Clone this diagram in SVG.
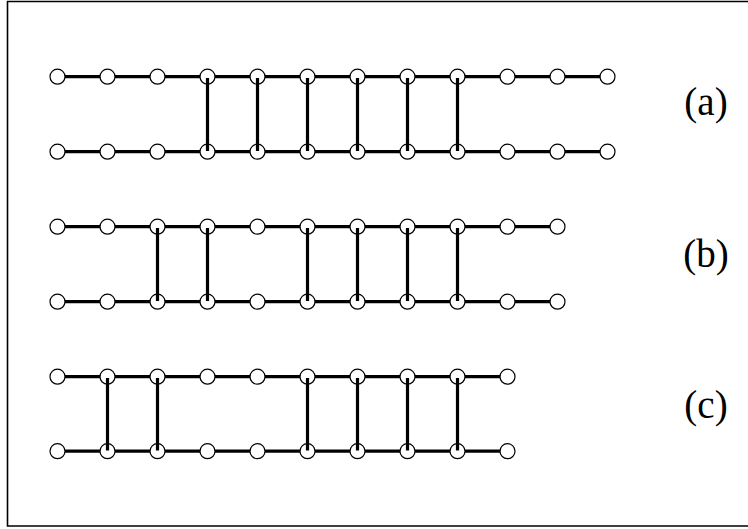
<svg xmlns="http://www.w3.org/2000/svg" width="748" height="529" viewBox="0 0 748 529">
<style>
.e{stroke:#000;stroke-width:3.2;fill:none}
.n{fill:#fff;stroke:#000;stroke-width:1.2}
.lbl{font-size:39px;fill:#000;text-anchor:middle}
.frame{stroke:#000;stroke-width:1.6;fill:none}
</style>
<rect width="748" height="529" fill="#fff"/>
<path class="frame" d="M748,1.5 H7.5 V526 H748"/>
<g id="connectors">
<g id="rails">
<line class="e" x1="57.5" y1="76.7" x2="607.5" y2="76.7"/>
<line class="e" x1="57.5" y1="151.7" x2="607.5" y2="151.7"/>
<line class="e" x1="57.5" y1="226.7" x2="557.5" y2="226.7"/>
<line class="e" x1="57.5" y1="301.7" x2="557.5" y2="301.7"/>
<line class="e" x1="57.5" y1="376.7" x2="507.5" y2="376.7"/>
<line class="e" x1="57.5" y1="451.2" x2="507.5" y2="451.2"/>
</g>
</g>
<g id="nodes-a">
<g id="a-t0"><circle class="n" cx="57.5" cy="76.7" r="7.5"/></g>
<g id="a-t1"><circle class="n" cx="107.5" cy="76.7" r="7.5"/></g>
<g id="a-t2"><circle class="n" cx="157.5" cy="76.7" r="7.5"/></g>
<g id="a-t3"><circle class="n" cx="207.5" cy="76.7" r="7.5"/></g>
<g id="a-t4"><circle class="n" cx="257.5" cy="76.7" r="7.5"/></g>
<g id="a-t5"><circle class="n" cx="307.5" cy="76.7" r="7.5"/></g>
<g id="a-t6"><circle class="n" cx="357.5" cy="76.7" r="7.5"/></g>
<g id="a-t7"><circle class="n" cx="407.5" cy="76.7" r="7.5"/></g>
<g id="a-t8"><circle class="n" cx="457.5" cy="76.7" r="7.5"/></g>
<g id="a-t9"><circle class="n" cx="507.5" cy="76.7" r="7.5"/></g>
<g id="a-t10"><circle class="n" cx="557.5" cy="76.7" r="7.5"/></g>
<g id="a-t11"><circle class="n" cx="607.5" cy="76.7" r="7.5"/></g>
<g id="a-b0"><circle class="n" cx="57.5" cy="151.7" r="7.5"/></g>
<g id="a-b1"><circle class="n" cx="107.5" cy="151.7" r="7.5"/></g>
<g id="a-b2"><circle class="n" cx="157.5" cy="151.7" r="7.5"/></g>
<g id="a-b3"><circle class="n" cx="207.5" cy="151.7" r="7.5"/></g>
<g id="a-b4"><circle class="n" cx="257.5" cy="151.7" r="7.5"/></g>
<g id="a-b5"><circle class="n" cx="307.5" cy="151.7" r="7.5"/></g>
<g id="a-b6"><circle class="n" cx="357.5" cy="151.7" r="7.5"/></g>
<g id="a-b7"><circle class="n" cx="407.5" cy="151.7" r="7.5"/></g>
<g id="a-b8"><circle class="n" cx="457.5" cy="151.7" r="7.5"/></g>
<g id="a-b9"><circle class="n" cx="507.5" cy="151.7" r="7.5"/></g>
<g id="a-b10"><circle class="n" cx="557.5" cy="151.7" r="7.5"/></g>
<g id="a-b11"><circle class="n" cx="607.5" cy="151.7" r="7.5"/></g>
</g>
<g id="nodes-b">
<g id="b-t0"><circle class="n" cx="57.5" cy="226.7" r="7.5"/></g>
<g id="b-t1"><circle class="n" cx="107.5" cy="226.7" r="7.5"/></g>
<g id="b-t2"><circle class="n" cx="157.5" cy="226.7" r="7.5"/></g>
<g id="b-t3"><circle class="n" cx="207.5" cy="226.7" r="7.5"/></g>
<g id="b-t4"><circle class="n" cx="257.5" cy="226.7" r="7.5"/></g>
<g id="b-t5"><circle class="n" cx="307.5" cy="226.7" r="7.5"/></g>
<g id="b-t6"><circle class="n" cx="357.5" cy="226.7" r="7.5"/></g>
<g id="b-t7"><circle class="n" cx="407.5" cy="226.7" r="7.5"/></g>
<g id="b-t8"><circle class="n" cx="457.5" cy="226.7" r="7.5"/></g>
<g id="b-t9"><circle class="n" cx="507.5" cy="226.7" r="7.5"/></g>
<g id="b-t10"><circle class="n" cx="557.5" cy="226.7" r="7.5"/></g>
<g id="b-b0"><circle class="n" cx="57.5" cy="301.7" r="7.5"/></g>
<g id="b-b1"><circle class="n" cx="107.5" cy="301.7" r="7.5"/></g>
<g id="b-b2"><circle class="n" cx="157.5" cy="301.7" r="7.5"/></g>
<g id="b-b3"><circle class="n" cx="207.5" cy="301.7" r="7.5"/></g>
<g id="b-b4"><circle class="n" cx="257.5" cy="301.7" r="7.5"/></g>
<g id="b-b5"><circle class="n" cx="307.5" cy="301.7" r="7.5"/></g>
<g id="b-b6"><circle class="n" cx="357.5" cy="301.7" r="7.5"/></g>
<g id="b-b7"><circle class="n" cx="407.5" cy="301.7" r="7.5"/></g>
<g id="b-b8"><circle class="n" cx="457.5" cy="301.7" r="7.5"/></g>
<g id="b-b9"><circle class="n" cx="507.5" cy="301.7" r="7.5"/></g>
<g id="b-b10"><circle class="n" cx="557.5" cy="301.7" r="7.5"/></g>
</g>
<g id="nodes-c">
<g id="c-t0"><circle class="n" cx="57.5" cy="376.7" r="7.5"/></g>
<g id="c-t1"><circle class="n" cx="107.5" cy="376.7" r="7.5"/></g>
<g id="c-t2"><circle class="n" cx="157.5" cy="376.7" r="7.5"/></g>
<g id="c-t3"><circle class="n" cx="207.5" cy="376.7" r="7.5"/></g>
<g id="c-t4"><circle class="n" cx="257.5" cy="376.7" r="7.5"/></g>
<g id="c-t5"><circle class="n" cx="307.5" cy="376.7" r="7.5"/></g>
<g id="c-t6"><circle class="n" cx="357.5" cy="376.7" r="7.5"/></g>
<g id="c-t7"><circle class="n" cx="407.5" cy="376.7" r="7.5"/></g>
<g id="c-t8"><circle class="n" cx="457.5" cy="376.7" r="7.5"/></g>
<g id="c-t9"><circle class="n" cx="507.5" cy="376.7" r="7.5"/></g>
<g id="c-b0"><circle class="n" cx="57.5" cy="451.2" r="7.5"/></g>
<g id="c-b1"><circle class="n" cx="107.5" cy="451.2" r="7.5"/></g>
<g id="c-b2"><circle class="n" cx="157.5" cy="451.2" r="7.5"/></g>
<g id="c-b3"><circle class="n" cx="207.5" cy="451.2" r="7.5"/></g>
<g id="c-b4"><circle class="n" cx="257.5" cy="451.2" r="7.5"/></g>
<g id="c-b5"><circle class="n" cx="307.5" cy="451.2" r="7.5"/></g>
<g id="c-b6"><circle class="n" cx="357.5" cy="451.2" r="7.5"/></g>
<g id="c-b7"><circle class="n" cx="407.5" cy="451.2" r="7.5"/></g>
<g id="c-b8"><circle class="n" cx="457.5" cy="451.2" r="7.5"/></g>
<g id="c-b9"><circle class="n" cx="507.5" cy="451.2" r="7.5"/></g>
</g>
<g id="rungs">
<line class="e" x1="207.5" y1="78" x2="207.5" y2="151"/>
<line class="e" x1="257.5" y1="78" x2="257.5" y2="151"/>
<line class="e" x1="307.5" y1="78" x2="307.5" y2="151"/>
<line class="e" x1="357.5" y1="78" x2="357.5" y2="151"/>
<line class="e" x1="407.5" y1="78" x2="407.5" y2="151"/>
<line class="e" x1="457.5" y1="78" x2="457.5" y2="151"/>
<line class="e" x1="157.5" y1="228" x2="157.5" y2="301"/>
<line class="e" x1="207.5" y1="228" x2="207.5" y2="301"/>
<line class="e" x1="307.5" y1="228" x2="307.5" y2="301"/>
<line class="e" x1="357.5" y1="228" x2="357.5" y2="301"/>
<line class="e" x1="407.5" y1="228" x2="407.5" y2="301"/>
<line class="e" x1="457.5" y1="228" x2="457.5" y2="301"/>
<line class="e" x1="107.5" y1="378" x2="107.5" y2="450.5"/>
<line class="e" x1="157.5" y1="378" x2="157.5" y2="450.5"/>
<line class="e" x1="307.5" y1="378" x2="307.5" y2="450.5"/>
<line class="e" x1="357.5" y1="378" x2="357.5" y2="450.5"/>
<line class="e" x1="407.5" y1="378" x2="407.5" y2="450.5"/>
<line class="e" x1="457.5" y1="378" x2="457.5" y2="450.5"/>
</g>
<g id="labels" font-family="Liberation Serif, Times New Roman, DejaVu Serif, serif">
<text class="lbl" x="706" y="115">(a)</text>
<text class="lbl" x="706" y="267">(b)</text>
<text class="lbl" x="706" y="418">(c)</text>
</g>
</svg>
